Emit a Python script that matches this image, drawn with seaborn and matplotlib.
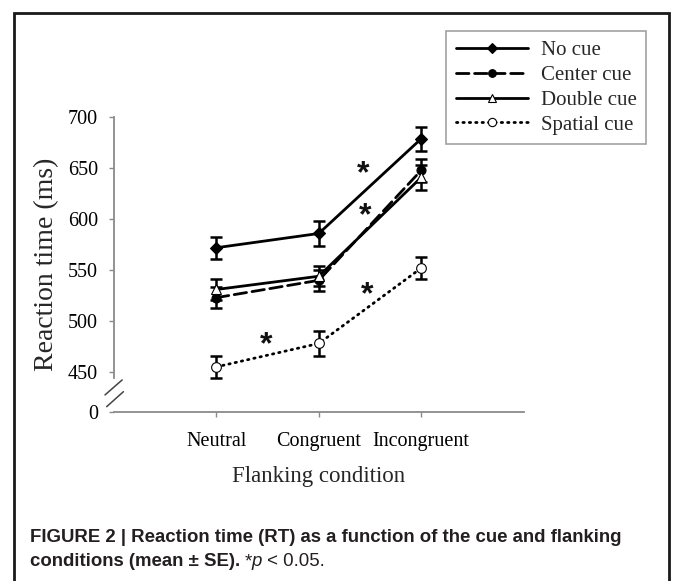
import matplotlib
matplotlib.use("Agg")
import matplotlib.pyplot as plt
import seaborn as sns
import numpy as np
from matplotlib.lines import Line2D
from matplotlib.patches import Rectangle

# data
conditions = ["Neutral", "Congruent", "Incongruent"]
cues = ["No cue", "Center cue", "Double cue", "Spatial cue"]
rt_no = [572, 586, 679]
rt_center = [523, 540, 648]
rt_double = [531, 544, 641]
rt_spatial = [455, 478, 552]
se_no = [11, 12.5, 12]
se_center = [10, 10, 11]
se_double = [10, 10, 12]
se_spatial = [11, 12.5, 11]
yticks = [450, 500, 550, 600, 650, 700]
# significance stars (x position between conditions, y in ms)
star_x = [1.43, 1.45, 1.47, 0.49]
star_y = [644, 603, 525, 476]

sns.set_style("ticks")
serif = ["Liberation Serif", "DejaVu Serif"]
plt.rcParams["font.family"] = serif

fig = plt.figure(figsize=(6.73, 5.81), dpi=100)
ax = fig.add_axes([0.1694, 0.2914, 0.6086, 0.5066])

x = np.arange(len(conditions))
series = [
    (rt_no, se_no, "-", "D", "black", 6),
    (rt_center, se_center, (0, (4.5, 2)), "o", "black", 6.5),
    (rt_double, se_double, "-", "^", "white", 6.5),
    (rt_spatial, se_spatial, (0, (0.5, 1.8)), "o", "white", 7),
]
handles = []
for (vals, se, ls, mk, mfc, ms), name in zip(series, cues):
    ax.errorbar(x, vals, yerr=se, fmt="none", ecolor="black",
                elinewidth=1.8, capsize=4, capthick=1.8, zorder=2)
    sns.lineplot(x=x, y=vals, ax=ax, color="black", linewidth=2.0,
                 linestyle=ls, marker=mk, markersize=ms,
                 markerfacecolor=mfc, markeredgecolor="black",
                 markeredgewidth=0.8, dash_capstyle="round", zorder=3)
    handles.append(Line2D([0], [0], color="black", linewidth=2.0,
                          linestyle=ls, marker=mk,
                          markersize=ms * 0.85, markerfacecolor=mfc,
                          markeredgecolor="black", markeredgewidth=0.8,
                          dash_capstyle="round"))

for sx, sy in zip(star_x, star_y):
    ax.text(sx, sy, "*", ha="center", va="center", fontsize=23,
            fontweight="bold", family=["Liberation Sans", "DejaVu Sans"],
            color="#111111")

bottom = 411
ax.set_xlim(-1, 3)
ax.set_ylim(bottom, 700)
ax.set_xticks(x)
ax.set_xticklabels(conditions, fontsize=14.5)
ax.set_yticks([bottom] + yticks)
ax.set_yticklabels(["0"] + [str(t) for t in yticks], fontsize=14.5)
ax.set_xlabel("Flanking condition", fontsize=16.5, labelpad=11)
ax.set_ylabel("Reaction time (ms)", fontsize=20, labelpad=6)

for side in ["top", "right"]:
    ax.spines[side].set_visible(False)
for side in ["left", "bottom"]:
    ax.spines[side].set_color("#8a8a8a")
    ax.spines[side].set_linewidth(1.3)
ax.spines["left"].set_bounds(444, 700)
ax.tick_params(axis="both", colors="#8a8a8a", length=3.5, width=1.0,
               labelcolor="black")
ax.tick_params(axis="y", pad=8)
ax.tick_params(axis="x", pad=11)

# axis break marks
for (fx0, fx1, fy0, fy1) in [(-0.022, 0.020, 0.057, 0.108), (-0.018, 0.023, 0.017, 0.068)]:
    ax.plot([fx0, fx1], [fy0, fy1], transform=ax.transAxes, color="#444444",
            linewidth=1.1, clip_on=False)

leg = fig.legend(handles, cues, loc="upper left",
                 bbox_to_anchor=(0.663, 0.946), bbox_transform=fig.transFigure,
                 fontsize=15, frameon=True, fancybox=False, handlelength=3.5,
                 handletextpad=0.6, labelspacing=0.25, borderpad=0.45,
                 borderaxespad=0)
leg.get_frame().set_edgecolor("#8a8a8a")
leg.get_frame().set_linewidth(1.2)

# outer frame
fig.patches.append(Rectangle((14 / 673, -0.05), (669 - 14) / 673, 1 - 13 / 581 + 0.05,
                             transform=fig.transFigure, fill=False,
                             edgecolor="#1a1a1a", linewidth=2.0))

# caption
cap = ["Liberation Sans", "DejaVu Sans"]
fs = 13.4
fig.text(30 / 673, 1 - 537 / 581, "FIGURE 2 | Reaction time (RT) as a function of the cue and flanking",
         family=cap, fontweight="bold", fontsize=fs, va="center", color="#231f20")
renderer = fig.canvas.get_renderer()
t1 = fig.text(30 / 673, 1 - 562 / 581, "conditions (mean \u00b1 SE).", family=cap,
              fontweight="bold", fontsize=fs, va="center", color="#231f20")
xpos = t1.get_window_extent(renderer).x1 / fig.bbox.width + 4 / 673
for piece, style in [("*", "normal"), ("p", "italic"), (" < 0.05.", "normal")]:
    t = fig.text(xpos, 1 - 562 / 581, piece, family=cap, fontstyle=style,
                 fontsize=fs, va="center", color="#231f20")
    xpos = t.get_window_extent(renderer).x1 / fig.bbox.width

fig.savefig("out.png", dpi=100)
